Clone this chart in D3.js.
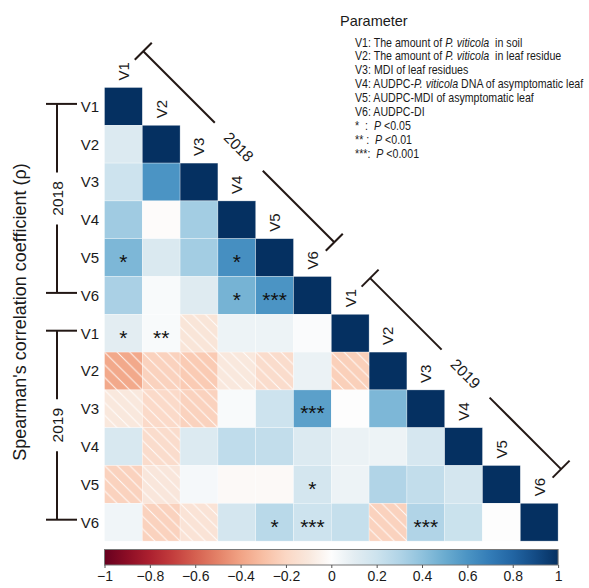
<!DOCTYPE html>
<html>
<head>
<meta charset="utf-8">
<script src="https://cdn.jsdelivr.net/npm/d3@7"></script>
<style>
  body { margin: 0; background: #fff; }
  svg { display: block; font-family: "Liberation Sans", Arial, sans-serif; }
</style>
</head>
<body>
<script>
// Variable names and the two years (row / column groups)
const vars = ["V1", "V2", "V3", "V4", "V5", "V6"];
const years = ["2018", "2019"];

// Spearman's rho, lower triangle (rows: 2018 V1..V6, 2019 V1..V6)
const rho = [
    [1],
    [0.13, 1],
    [0.20, 0.60, 1],
    [0.35, -0.01, 0.34, 1],
    [0.45, 0.14, 0.34, 0.62, 1],
    [0.32, 0.02, 0.12, 0.47, 0.60, 1],
    [0.10, 0.02, -0.12, 0.06, 0.06, 0.01, 1],
    [-0.38, -0.22, -0.25, -0.10, -0.17, 0.07, -0.23, 1],
    [-0.10, -0.18, -0.22, 0.02, 0.20, 0.55, 0.00, 0.45, 1],
    [0.15, -0.17, 0.13, 0.25, 0.24, 0.13, 0.07, 0.06, 0.16, 1],
    [-0.22, -0.11, 0.03, -0.02, -0.02, 0.17, 0.06, 0.30, 0.24, 0.17, 1],
    [0.05, -0.22, -0.13, 0.17, 0.27, 0.20, 0.23, -0.22, 0.30, 0.21, 0.00, 1]
];

// significance marks, same shape as rho
const sig = [
    [""],
    ["", ""],
    ["", "", ""],
    ["", "", "", ""],
    ["*", "", "", "*", ""],
    ["", "", "", "*", "***", ""],
    ["*", "**", "", "", "", "", ""],
    ["", "", "", "", "", "", "", ""],
    ["", "", "", "", "", "***", "", "", ""],
    ["", "", "", "", "", "", "", "", "", ""],
    ["", "", "", "", "", "*", "", "", "", "", ""],
    ["", "", "", "", "*", "***", "", "", "***", "", "", ""]
];

// colour bar ticks
const cbTicks = [-1, -0.8, -0.6, -0.4, -0.2, 0, 0.2, 0.4, 0.6, 0.8, 1];

// legend lines: [text, italic?] segments
const legendTitle = "Parameter";
const legendLines = [
    [["V1: The amount of ", false], ["P. viticola", true], ["  in soil", false]],
    [["V2: The amount of ", false], ["P. viticola", true], ["  in leaf residue", false]],
    [["V3: MDI of leaf residues", false]],
    [["V4: AUDPC-", false], ["P. viticola", true], [" DNA of asymptomatic leaf", false]],
    [["V5: AUDPC-MDI of asymptomatic leaf", false]],
    [["V6: AUDPC-DI", false]],
    [["*  :  ", false], ["P", true], [" <0.05", false]],
    [["** :  ", false], ["P", true], [" <0.01", false]],
    [["***:  ", false], ["P", true], [" <0.001", false]]
];

const width = 589, height = 588;
const x0 = 104.5, y0 = 87.5, cell = 37.8;
const n = vars.length * years.length;
const ink = "#231815";
const txt = "#1a1a1a";
const font = "'Liberation Sans', Arial, sans-serif";

const labels = years.flatMap(y => vars.map(v => ({year: y, v: v})));

const svg = d3.select("body").append("svg")
    .attr("width", width)
    .attr("height", height);

const x = d3.scaleBand().domain(d3.range(n)).range([x0, x0 + n * cell]);
const y = d3.scaleBand().domain(d3.range(n)).range([y0, y0 + n * cell]);

// RdBu, but with a clean white centre like the original colour map
const cStops = d3.range(-1, 1.0001, 0.1).map(v => Math.round(v * 10) / 10);
const color = d3.scaleLinear()
    .domain(cStops)
    .range(cStops.map(v => v === 0 ? "#fdfdfd" : d3.interpolateRdBu((v + 1) / 2)))
    .interpolate(d3.interpolateRgb);

// hatch for negative correlations
const defs = svg.append("defs");
const hs = cell / 3;
const pat = defs.append("pattern")
    .attr("id", "hatch")
    .attr("patternUnits", "userSpaceOnUse")
    .attr("x", x0).attr("y", y0)
    .attr("width", hs).attr("height", hs);
pat.append("path")
    .attr("d", `M0,0L${hs},${hs}M${-2},${hs - 2}L2,${hs + 2}M${hs - 2},-2L${hs + 2},2`)
    .attr("stroke", "#fff")
    .attr("stroke-width", 1)
    .attr("stroke-opacity", 0.9);

const cells = rho.flatMap((row, i) => row.map((v, j) => ({i, j, v, s: sig[i][j]})));

const g = svg.append("g");
g.selectAll("rect.cell")
    .data(cells)
    .join("rect")
    .attr("class", "cell")
    .attr("x", d => x(d.j))
    .attr("y", d => y(d.i))
    .attr("width", x.bandwidth())
    .attr("height", y.bandwidth())
    .attr("fill", d => color(d.v))
    .attr("stroke", "#fff")
    .attr("stroke-width", 0.6)
    .attr("stroke-opacity", 0.5);

g.selectAll("rect.hatch")
    .data(cells.filter(d => d.v < -0.05))
    .join("rect")
    .attr("class", "hatch")
    .attr("x", d => x(d.j))
    .attr("y", d => y(d.i))
    .attr("width", x.bandwidth())
    .attr("height", y.bandwidth())
    .attr("fill", "url(#hatch)");

g.selectAll("text.sig")
    .data(cells.filter(d => d.s))
    .join("text")
    .attr("class", "sig")
    .attr("x", d => x(d.j) + cell / 2)
    .attr("y", d => y(d.i) + cell / 2 + 11.5)
    .attr("text-anchor", "middle")
    .attr("font-size", 21)
    .attr("fill", "#111")
    .text(d => d.s);

// row labels
svg.selectAll("text.rowlab")
    .data(labels)
    .join("text")
    .attr("class", "rowlab")
    .attr("x", 99)
    .attr("y", (d, i) => y(i) + cell / 2)
    .attr("dy", "0.36em")
    .attr("text-anchor", "end")
    .attr("font-size", 15)
    .attr("fill", txt)
    .text(d => d.v);

// column labels above the diagonal
svg.selectAll("text.collab")
    .data(labels)
    .join("text")
    .attr("class", "collab")
    .attr("transform", (d, i) => `translate(${x(i) + cell / 2},${y(i) - 7}) rotate(-90)`)
    .attr("dy", "0.36em")
    .attr("text-anchor", "start")
    .attr("font-size", 15)
    .attr("fill", txt)
    .text(d => d.v);

// left brackets
years.forEach((yr, k) => {
    const top = y(k * 6) + cell / 2 - 2.5;
    const bot = y(k * 6 + 5) + cell / 2 - 2.5;
    const mid = (top + bot) / 2;
    const b = svg.append("g").attr("stroke", ink).attr("stroke-width", 2);
    b.append("line").attr("x1", 46).attr("x2", 77).attr("y1", top).attr("y2", top);
    b.append("line").attr("x1", 46).attr("x2", 77).attr("y1", bot).attr("y2", bot);
    b.append("line").attr("x1", 57).attr("x2", 57).attr("y1", top).attr("y2", mid - 26);
    b.append("line").attr("x1", 57).attr("x2", 57).attr("y1", mid + 26).attr("y2", bot);
    svg.append("text")
        .attr("transform", `translate(57,${mid}) rotate(-90)`)
        .attr("text-anchor", "middle")
        .attr("dy", "0.36em")
        .attr("font-size", 15.5)
        .attr("fill", txt)
        .text(yr);
});

// diagonal brackets
const off = 92;
years.forEach((yr, k) => {
    const xs = x(k * 6) + cell + 1;
    const xe = x(k * 6 + 5) + cell + 3;
    const xm = (xs + xe) / 2;
    const gap = 24, t = 8.5;
    const b = svg.append("g").attr("stroke", ink).attr("stroke-width", 2);
    b.append("line").attr("x1", xs).attr("y1", xs - off).attr("x2", xm - gap).attr("y2", xm - gap - off);
    b.append("line").attr("x1", xm + gap).attr("y1", xm + gap - off).attr("x2", xe).attr("y2", xe - off);
    [xs, xe].forEach(p => {
        b.append("line")
            .attr("x1", p - t).attr("y1", p - off + t)
            .attr("x2", p + t).attr("y2", p - off - t);
    });
    svg.append("text")
        .attr("transform", `translate(${xm},${xm - off}) rotate(45)`)
        .attr("text-anchor", "middle")
        .attr("dy", "0.36em")
        .attr("font-size", 15.5)
        .attr("fill", txt)
        .text(yr);
});

// y title
svg.append("text")
    .attr("transform", "translate(20,312) rotate(-90)")
    .attr("text-anchor", "middle")
    .attr("dy", "0.36em")
    .attr("font-size", 18)
    .attr("fill", txt)
    .text("Spearman's correlation coefficient (ρ)");

// legend
svg.append("text")
    .attr("x", 340).attr("y", 26)
    .attr("font-size", 14.5)
    .attr("fill", txt)
    .text(legendTitle);

// the legend face in the original is a condensed sans, so squeeze horizontally
legendLines.forEach((segs, i) => {
    const t = svg.append("text")
        .attr("transform", `translate(355,${46.5 + i * 13.9}) scale(0.85,1)`)
        .attr("font-size", 12.5)
        .attr("fill", txt)
        .style("white-space", "pre");
    segs.forEach(([s, it]) => {
        t.append("tspan").attr("font-style", it ? "italic" : "normal").text(s);
    });
});

// colour bar
const cbX = d3.scaleLinear().domain([-1, 1]).range([x0, x0 + n * cell]);
const cbY = 549.5, cbH = 15.5;
const grad = defs.append("linearGradient").attr("id", "cbgrad");
cStops.forEach(v => {
    grad.append("stop").attr("offset", (v + 1) / 2).attr("stop-color", color(v));
});
svg.append("rect")
    .attr("x", cbX(-1)).attr("y", cbY)
    .attr("width", cbX(1) - cbX(-1)).attr("height", cbH)
    .attr("fill", "url(#cbgrad)")
    .attr("stroke", "#777")
    .attr("stroke-width", 1);

const axis = svg.append("g")
    .attr("transform", `translate(0,${cbY + cbH})`)
    .call(d3.axisBottom(cbX).tickValues(cbTicks).tickSize(3).tickPadding(3)
        .tickFormat(d => d3.format("")(d).replace("-", "−")));
axis.select(".domain").remove();
axis.selectAll("line").attr("stroke", "#555");
axis.selectAll("text")
    .attr("font-size", 14)
    .attr("font-family", font)
    .attr("fill", txt);
</script>
</body>
</html>
